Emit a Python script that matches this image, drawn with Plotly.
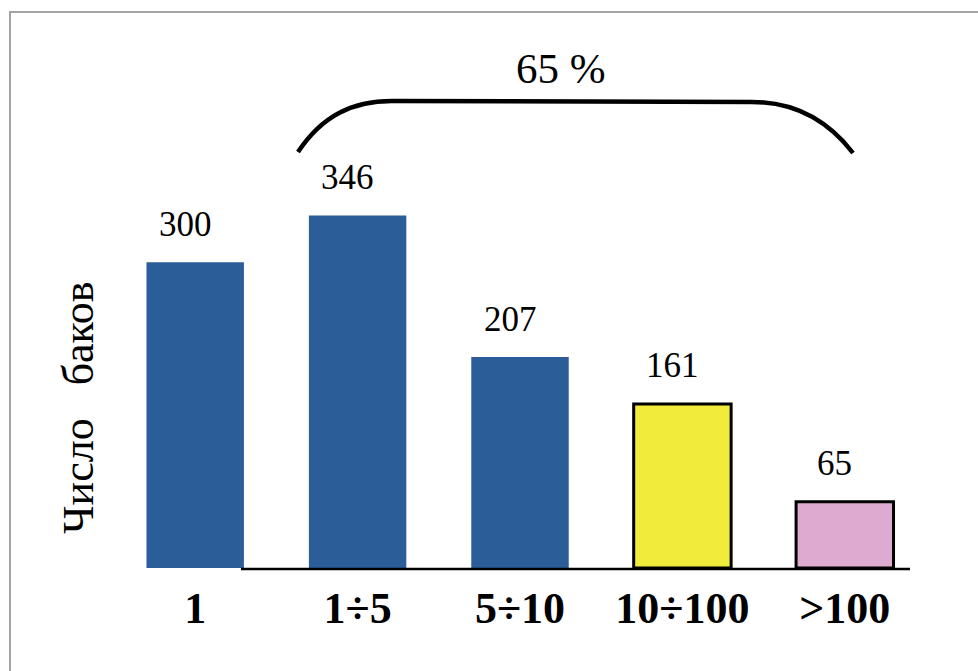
import plotly.graph_objects as go

# ---- data ----
categories = ["1", "1÷5", "5÷10", "10÷100", ">100"]
counts = [300, 346, 207, 161, 65]
bar_colors = ["#2B5D98", "#2B5D98", "#2B5D98", "#F1EB3C", "#DDAAD0"]
line_widths = [0, 0, 0, 3, 3]
y_title = "Число\u00a0\u00a0\u00a0баков"
bracket_text = "65 %"

# ---- layout geometry (pixels) ----
W, H = 978, 671
L, R, T, B = 114, 52, 20, 103
PW, PH = W - L - R, H - T - B
YMAX = PH / 1.019


def px_x(px):
    return (px - L) / PW


def px_y(py):
    return (H - B - py) / PH


FONT = "Liberation Serif"

fig = go.Figure()
fig.add_trace(go.Bar(
    x=categories,
    y=counts,
    width=0.6,
    marker=dict(color=bar_colors, line=dict(color="black", width=line_widths)),
    showlegend=False,
    hoverinfo="x+y",
))

annotations = []
for i, v in enumerate(counts):
    annotations.append(dict(
        x=i, y=v, xref="x", yref="y", text=str(v), showarrow=False,
        yanchor="middle", yshift=38, xshift=-10,
        font=dict(family=FONT, size=35, color="black"),
    ))

annotations.append(dict(
    x=px_x(78), y=px_y(408), xref="paper", yref="paper", text=y_title,
    textangle=-90, showarrow=False, xanchor="center", yanchor="middle",
    font=dict(family=FONT, size=44, color="black"),
))
annotations.append(dict(
    x=px_x(561), y=px_y(68), xref="paper", yref="paper", text=bracket_text,
    showarrow=False, xanchor="center", yanchor="middle",
    font=dict(family=FONT, size=43, color="black"),
))


# bracket path in paper coordinates built from pixel landmarks
def P(px, py):
    return f"{px_x(px):.5f},{px_y(py):.5f}"


bracket = (f"M {P(298,152)} C {P(322,116)} {P(352,101)} {P(392,101)} "
           f"L {P(752,102)} C {P(792,102)} {P(826,118)} {P(853,153)}")

shapes = [
    # outer frame
    dict(type="rect", xref="paper", yref="paper",
         x0=px_x(10), y0=px_y(700), x1=px_x(1000), y1=px_y(12),
         line=dict(color="#A3A3A3", width=2), layer="below"),
    # baseline
    dict(type="line", xref="paper", yref="paper",
         x0=px_x(241), y0=px_y(569), x1=px_x(910), y1=px_y(569),
         line=dict(color="black", width=2.5)),
    # bracket
    dict(type="path", xref="paper", yref="paper", path=bracket,
         line=dict(color="black", width=4.5)),
]

fig.update_layout(
    width=W, height=H,
    margin=dict(l=L, r=R, t=T, b=B, pad=0),
    paper_bgcolor="white", plot_bgcolor="white",
    xaxis=dict(
        type="category", range=[-0.5, 4.5],
        showline=False, showgrid=False, zeroline=False,
        ticks="outside", ticklen=1, tickcolor="rgba(0,0,0,0)",
        tickfont=dict(family=FONT, size=44, color="black", weight="bold"),
    ),
    yaxis=dict(
        range=[0, YMAX], showline=False, showgrid=False, zeroline=False,
        showticklabels=False, ticks="",
    ),
    annotations=annotations,
    shapes=shapes,
)

fig.write_html("out.html")
